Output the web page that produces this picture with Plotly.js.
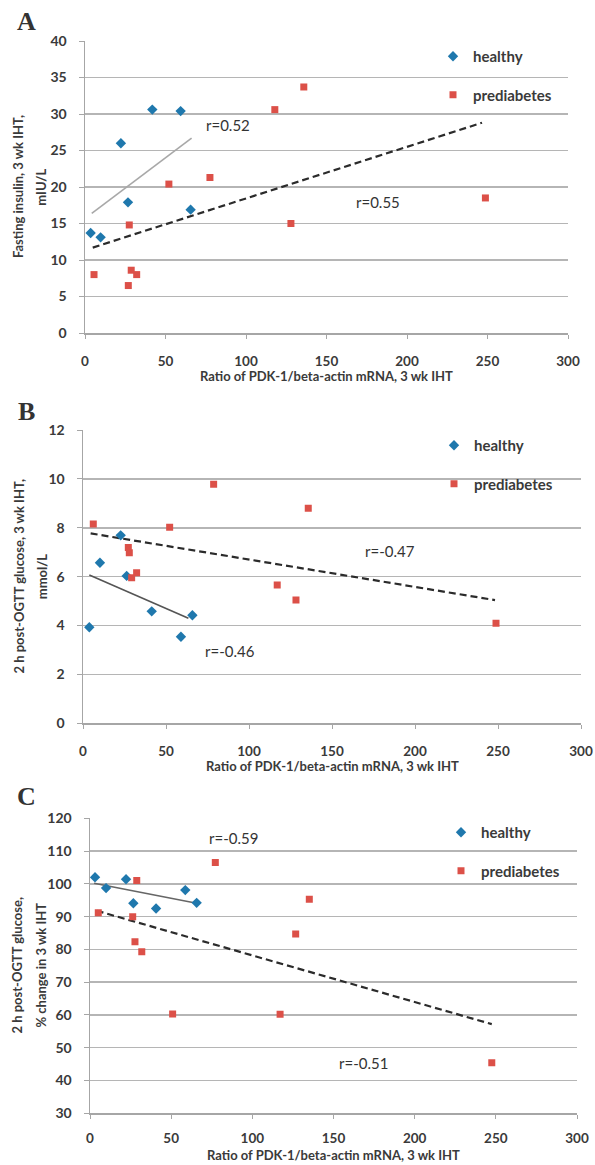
<!DOCTYPE html>
<html>
<head>
<meta charset="utf-8">
<script src="https://cdn.plot.ly/plotly-3.0.1.min.js"></script>
<style>html,body{margin:0;padding:0;background:#fff;}#chart{width:595px;height:1165px;}</style>
</head>
<body>
<div id="chart"></div>
<script>
// ---- Panel A: fasting insulin ----
const aHealthyX = [3.5, 9.7, 22.3, 26.7, 41.8, 59.4, 65.6];
const aHealthyY = [13.7, 13.1, 26.0, 17.9, 30.6, 30.4, 16.9];
const aPreX = [5.6, 26.9, 28.7, 32.1, 27.5, 52.1, 77.6, 117.9, 135.9, 127.9, 248.7];
const aPreY = [8.0, 6.5, 8.6, 8.0, 14.8, 20.4, 21.3, 30.6, 33.7, 15.0, 18.5];
const aHealthyTrendX = [4.2, 66.2];
const aHealthyTrendY = [16.4, 26.7];
const aPreTrendX = [4.8, 246.6];
const aPreTrendY = [11.7, 28.8];

// ---- Panel B: 2 h post-OGTT glucose ----
const bHealthyX = [3.8, 10.2, 22.7, 26.3, 41.4, 59.0, 65.9];
const bHealthyY = [3.93, 6.57, 7.69, 6.03, 4.58, 3.54, 4.42];
const bPreX = [6.2, 27.3, 27.9, 29.3, 32.3, 52.2, 78.7, 117.0, 128.3, 135.7, 248.8];
const bPreY = [8.15, 7.19, 6.98, 5.95, 6.16, 8.02, 9.78, 5.66, 5.04, 8.8, 4.09];
const bHealthyTrendX = [3.8, 63.5];
const bHealthyTrendY = [6.07, 4.3];
const bPreTrendX = [4.6, 248.2];
const bPreTrendY = [7.77, 5.04];

// ---- Panel C: % change ----
const cHealthyX = [3.1, 9.9, 22.2, 26.7, 40.7, 58.7, 65.7];
const cHealthyY = [102.0, 98.7, 101.4, 94.1, 92.5, 98.1, 94.2];
const cPreX = [5.1, 26.3, 27.7, 28.8, 31.9, 50.9, 77.2, 117.1, 126.7, 135.1, 247.5];
const cPreY = [91.2, 90.0, 82.3, 101.0, 79.3, 60.3, 106.5, 60.2, 84.7, 95.3, 45.4];
const cHealthyTrendX = [2.5, 65.7];
const cHealthyTrendY = [100.2, 94.1];
const cPreTrendX = [4.1, 247.5];
const cPreTrendY = [91.8, 57.2];

// ---- Text ----
const seriesNames = ["healthy", "prediabetes"];
const xTitle = "Ratio of PDK-1/beta-actin mRNA, 3 wk IHT";
const yTitles = [
  ["Fasting insulin, 3 wk IHT,", "mIU/L"],
  ["2 h post-OGTT glucose, 3 wk IHT,", "mmol/L"],
  ["2 h post-OGTT glucose,", "% change in 3 wk IHT"]
];
const panelLetters = ["A", "B", "C"];
const rLabels = [
  [{t: "r=0.52", x: 88.8, y: 28.5}, {t: "r=0.55", x: 181.9, y: 18.0}],
  [{t: "r=-0.47", x: 185, y: 7.06}, {t: "r=-0.46", x: 88.6, y: 2.97}],
  [{t: "r=-0.59", x: 88.3, y: 113.9}, {t: "r=-0.51", x: 168.4, y: 45.4}]
];

const BLUE = "#1f78ad";
const RED = "#dc5048";
const TXT = "#3a3a3a";
const FONT = "Lato, 'Open Sans', sans-serif";
const W = 595, H = 1165;

const panels = [
  {hx: aHealthyX, hy: aHealthyY, px: aPreX, py: aPreY,
   htx: aHealthyTrendX, hty: aHealthyTrendY, ptx: aPreTrendX, pty: aPreTrendY,
   htColor: "#a8a8a8", xs: "x", ys: "y", leg: "legend"},
  {hx: bHealthyX, hy: bHealthyY, px: bPreX, py: bPreY,
   htx: bHealthyTrendX, hty: bHealthyTrendY, ptx: bPreTrendX, pty: bPreTrendY,
   htColor: "#555555", xs: "x2", ys: "y2", leg: "legend2"},
  {hx: cHealthyX, hy: cHealthyY, px: cPreX, py: cPreY,
   htx: cHealthyTrendX, hty: cHealthyTrendY, ptx: cPreTrendX, pty: cPreTrendY,
   htColor: "#666666", xs: "x3", ys: "y3", leg: "legend3"}
];

const traces = [];
panels.forEach((p, i) => {
  traces.push({x: p.htx, y: p.hty, xaxis: p.xs, yaxis: p.ys, mode: "lines",
    line: {color: p.htColor, width: 1.6}, showlegend: false, hoverinfo: "skip"});
  traces.push({x: p.ptx, y: p.pty, xaxis: p.xs, yaxis: p.ys, mode: "lines",
    line: {color: "#2b2b2b", width: 2.2, dash: "7px,4px"}, showlegend: false, hoverinfo: "skip"});
  traces.push({x: p.hx, y: p.hy, xaxis: p.xs, yaxis: p.ys, mode: "markers", name: seriesNames[0],
    marker: {symbol: "diamond", size: 8, color: BLUE}, legend: p.leg, legendgroup: "h" + i});
  traces.push({x: p.px, y: p.py, xaxis: p.xs, yaxis: p.ys, mode: "markers", name: seriesNames[1],
    marker: {symbol: "square", size: 7, color: RED}, legend: p.leg, legendgroup: "p" + i});
});

function xax(d0, d1, anchor, standoff) {
  return {domain: [d0 / W, d1 / W], range: [0, 300], dtick: 50, tick0: 0, anchor: anchor,
    showgrid: false, zeroline: false, showline: true, linecolor: "#a6a6a6", linewidth: 1.5,
    ticks: "outside", ticklen: 4, tickcolor: "#a6a6a6", tickwidth: 1,
    ticklabelstandoff: standoff,
    tickfont: {family: FONT, size: 13.5, color: TXT, weight: "bold"}, fixedrange: true};
}
function yax(top, bot, r, dt, anchor) {
  return {domain: [1 - bot / H, 1 - top / H], range: r, dtick: dt, tick0: r[0], anchor: anchor,
    showgrid: true, gridcolor: "#b5b5b5", gridwidth: 1.5, zeroline: false,
    showline: true, linecolor: "#a6a6a6", linewidth: 1.5,
    ticks: "outside", ticklen: 5, tickcolor: "#a6a6a6", tickwidth: 1,
    ticklabelstandoff: 9,
    tickfont: {family: FONT, size: 14, color: TXT, weight: "bold"}, fixedrange: true};
}

const annotations = [];
const letterY = [21.7, 411.7, 796.7];
const yTitleX = [[18, 40.7], [18, 41.7], [16, 40]];
const yTitleY = [187, 576.5, 965.5];
const xTitleX = [326.5, 332, 333.5];
const xTitleY = [376, 766, 1155];
const xrefs = ["x", "x2", "x3"], yrefs = ["y", "y2", "y3"];
for (let i = 0; i < 3; i++) {
  annotations.push({text: panelLetters[i], xref: "paper", yref: "paper",
    x: 26.7 / W, y: 1 - letterY[i] / H, xanchor: "center", yanchor: "middle", showarrow: false,
    font: {family: "'Liberation Serif', 'DejaVu Serif', serif", size: 26, color: "#333", weight: "bold"}});
  for (let k = 0; k < 2; k++) {
    annotations.push({text: yTitles[i][k], xref: "paper", yref: "paper",
      x: yTitleX[i][k] / W, y: 1 - yTitleY[i] / H, xanchor: "center", yanchor: "middle",
      textangle: -90, showarrow: false,
      font: {family: FONT, size: 13, color: TXT, weight: "bold"}});
  }
  annotations.push({text: xTitle, xref: "paper", yref: "paper",
    x: xTitleX[i] / W, y: 1 - xTitleY[i] / H, xanchor: "center", yanchor: "middle", showarrow: false,
    font: {family: FONT, size: 13, color: TXT, weight: "bold"}});
  rLabels[i].forEach(r => {
    annotations.push({text: r.t, xref: xrefs[i], yref: yrefs[i], x: r.x, y: r.y,
      xanchor: "center", yanchor: "middle", showarrow: false,
      font: {family: FONT, size: 15, color: "#333"}});
  });
}

function leg(leftPx, topPx) {
  return {x: leftPx / W, y: 1 - topPx / H, xanchor: "left", yanchor: "top",
    bgcolor: "rgba(0,0,0,0)", borderwidth: 0, tracegroupgap: 16, itemwidth: 30,
    font: {family: FONT, size: 15, color: TXT, weight: "bold"}};
}

const layout = {
  width: W, height: H, margin: {l: 0, r: 0, t: 0, b: 0},
  paper_bgcolor: "#fff", plot_bgcolor: "#fff", showlegend: true,
  font: {family: FONT, color: TXT},
  xaxis: xax(85, 568, "y", 11), yaxis: yax(41, 333, [0, 40], 5, "x"),
  xaxis2: xax(83, 581, "y2", 11), yaxis2: yax(430, 723.3, [0, 12], 2, "x2"),
  xaxis3: xax(90, 577, "y3", 8), yaxis3: yax(818.3, 1113.3, [30, 120], 10, "x3"),
  legend: leg(433, 40),
  legend2: leg(434, 429),
  legend3: leg(441, 816),
  annotations: annotations
};

Plotly.newPlot("chart", traces, layout, {displayModeBar: false, staticPlot: true});
</script>
</body>
</html>
